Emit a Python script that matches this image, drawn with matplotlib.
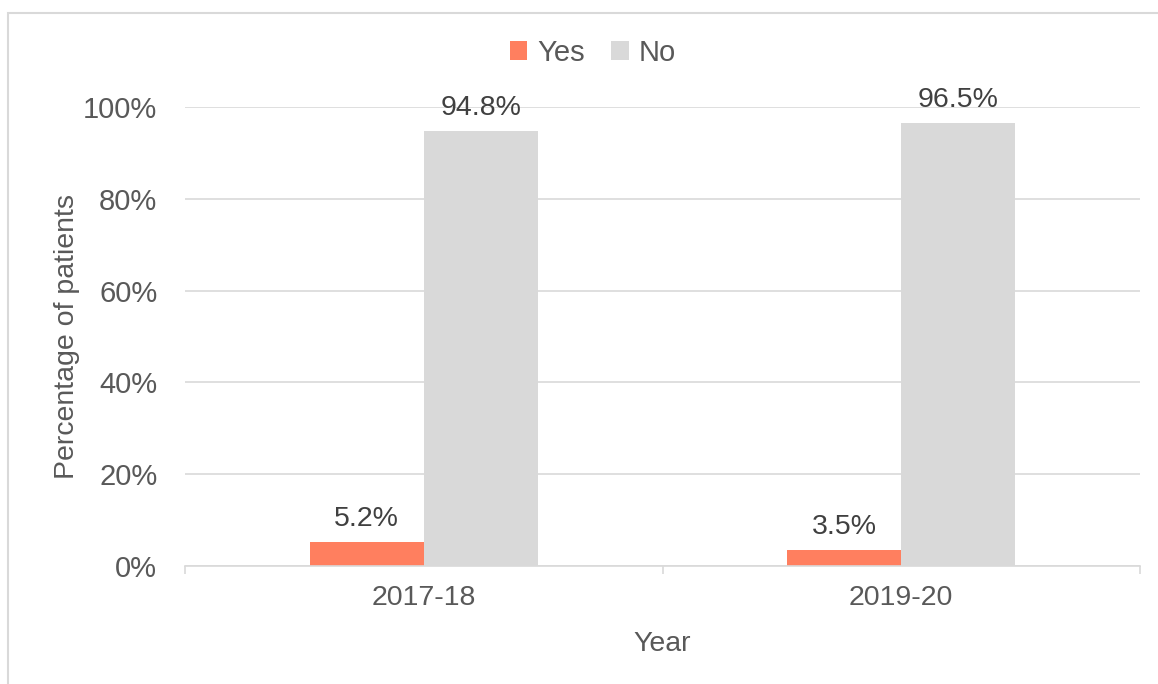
import matplotlib.pyplot as plt
import numpy as np
from matplotlib.patches import Rectangle

plt.rcParams['font.family'] = ['Liberation Sans', 'DejaVu Sans']

years = ['2017-18', '2019-20']
yes_pct = [5.2, 3.5]
no_pct = [94.8, 96.5]
yes_color = '#FF7F5F'
no_color = '#D9D9D9'
text_color = '#595959'

fig = plt.figure(figsize=(11.58, 6.84), dpi=100)
ax = fig.add_axes([0.1598, 0.1725, 0.8247, 0.6711])

x = np.arange(len(years))
w = 0.239
b1 = ax.bar(x - w / 2, yes_pct, w, color=yes_color, label='Yes', zorder=3)
b2 = ax.bar(x + w / 2, no_pct, w, color=no_color, label='No', zorder=3)

for bars, vals in [(b1, yes_pct), (b2, no_pct)]:
    for bar, v in zip(bars, vals):
        ax.text(bar.get_x() + bar.get_width() / 2, v + 2.2, f'{v}%',
                ha='center', va='bottom', fontsize=20.5, color='#404040')

ax.set_xlim(-0.5, 1.5)
ax.set_ylim(0, 100)
ax.set_yticks(np.arange(0, 101, 20))
ax.set_yticklabels([f'{t}%' for t in range(0, 101, 20)])
ax.set_xticks(x)
ax.set_xticklabels(years)
ax.set_xticks([-0.5, 0.5, 1.5], minor=True)
ax.tick_params(axis='x', which='major', length=0, pad=14, labelsize=20.5, labelcolor=text_color)
ax.tick_params(axis='x', which='minor', length=6, color='#D9D9D9', width=1.2)
ax.tick_params(axis='y', length=0, pad=20, labelsize=21, labelcolor=text_color)

ax.grid(axis='y', color='#D9D9D9', linewidth=1.2, zorder=0)
for s in ['top', 'right', 'left']:
    ax.spines[s].set_visible(False)
ax.spines['bottom'].set_color('#D9D9D9')
ax.spines['bottom'].set_linewidth(1.2)
ax.spines['bottom'].set_zorder(4)

ax.set_xlabel('Year', fontsize=20.5, color=text_color, labelpad=14)
ax.set_ylabel('Percentage of patients', fontsize=20.5, color=text_color, labelpad=2)

fig.legend(loc='center', bbox_to_anchor=(593 / 1158, 1 - 53 / 684), ncol=2, frameon=False,
           fontsize=21, labelcolor=text_color, handlelength=0.6, handleheight=0.6,
           handletextpad=0.35, columnspacing=0.9)

# outer chart frame
fig.patches.append(Rectangle((8 / 1158, -0.01), 1 - 8 / 1158 + 0.01, 1 - 13 / 684 + 0.01,
                             transform=fig.transFigure, fill=False,
                             edgecolor='#D9D9D9', linewidth=1.5))

fig.savefig('out.png', dpi=100)
